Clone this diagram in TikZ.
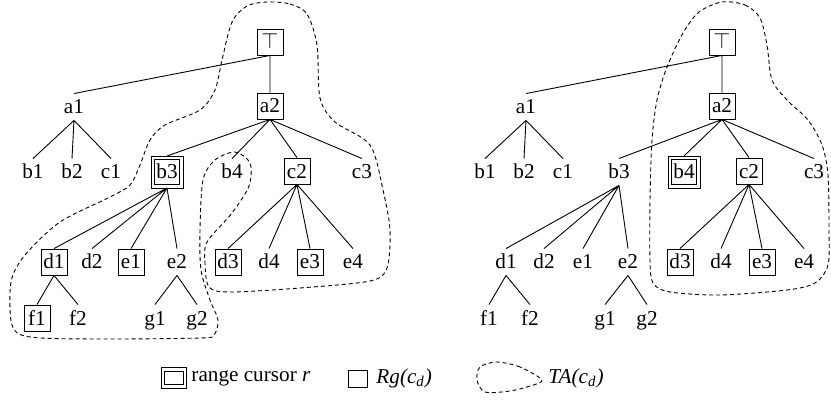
\documentclass[tikz,border=0pt]{standalone}
\usepackage{fontspec}
\setmainfont{Liberation Serif}

\tikzset{
	vertex/.style = {minimum size=13pt, inner sep=1pt, text height=7.2pt, text depth=0.2pt, font=\rmfamily\fontsize{10.6}{12}\selectfont},
	rg/.style = {vertex, draw},
	frame/.style = {outer sep=1.6pt, append after command={\pgfextra{\draw (\tikzlastnode.south west) rectangle (\tikzlastnode.north east);}}},
	cursor/.style = {vertex, draw, minimum size=12.8pt, frame},
	ta/.style = {dash pattern=on 2pt off 1.5pt},
	legend/.style = {anchor=west, inner sep=0pt, font=\rmfamily\fontsize{10.6}{12}\selectfont}
}

\begin{document}
\begin{tikzpicture}[x=0.5pt, y=-0.5pt, line width=0.45pt]
	\useasboundingbox (0,0) rectangle (831,401);
	% left tree, cursor at b3
		\node[rg]     (lT)  at (270,42)  {$\top$};
		\node[vertex] (la1) at (74,107)  {a1};
		\node[rg]     (la2) at (270,106) {a2};
		\node[vertex] (lb1) at (33,172)  {b1};
		\node[vertex] (lb2) at (72,172)  {b2};
		\node[vertex] (lc1) at (111,172) {c1};
		\node[cursor] (lb3) at (167,172) {b3};
		\node[vertex] (lb4) at (232,172) {b4};
		\node[rg]     (lc2) at (297,171) {c2};
		\node[vertex] (lc3) at (362,172) {c3};
		\node[rg]     (ld1) at (54,262)  {d1};
		\node[vertex] (ld2) at (92,262)  {d2};
		\node[rg]     (le1) at (131,262) {e1};
		\node[vertex] (le2) at (177,262) {e2};
		\node[rg]     (ld3) at (228,262) {d3};
		\node[vertex] (ld4) at (269,262) {d4};
		\node[rg]     (le3) at (310,262) {e3};
		\node[vertex] (le4) at (353,262) {e4};
		\node[rg]     (lf1) at (37,318)  {f1};
		\node[vertex] (lf2) at (78,318)  {f2};
		\node[vertex] (lg1) at (155,318) {g1};
		\node[vertex] (lg2) at (197,318) {g2};
		\draw (lT.south) -- (la1.north) (lT.south) -- (la2.north);
		\draw (la1.south) -- (lb1.north) (la1.south) -- (lb2.north) (la1.south) -- (lc1.north);
		\draw (la2.south) -- (lb3.north) (la2.south) -- (lb4.north) (la2.south) -- (lc2.north) (la2.south) -- (lc3.north);
		\draw (lb3.south) -- (ld1.north) (lb3.south) -- (ld2.north) (lb3.south) -- (le1.north) (lb3.south) -- (le2.north);
		\draw (lc2.south) -- (ld3.north) (lc2.south) -- (ld4.north) (lc2.south) -- (le3.north) (lc2.south) -- (le4.north);
		\draw (ld1.south) -- (lf1.north) (ld1.south) -- (lf2.north);
		\draw (le2.south) -- (lg1.north) (le2.south) -- (lg2.north);
		\draw[ta] plot[smooth cycle] coordinates {(267,2) (290,4) (307,14) (317,45) (320,98) (335,122) (370,145) (383,190) (390,230) (387,268) (370,281) (300,288) (230,292) (209,287) (205,263) (207,242) (232,213) (249,186) (250,163) (235,152) (215,160) (203,180) (200,230) (201,270) (210,300) (218,320) (214,335) (200,338) (100,339) (30,337) (12,325) (11,282) (25,255) (60,222) (110,197) (130,185) (140,165) (150,140) (165,125) (200,110) (215,90) (222,60) (232,22) (247,6)};
	% right tree, cursor at b4
		\node[rg]     (rT)  at (722,42)  {$\top$};
		\node[vertex] (ra1) at (526,107) {a1};
		\node[rg]     (ra2) at (722,106) {a2};
		\node[vertex] (rb1) at (485,172) {b1};
		\node[vertex] (rb2) at (524,172) {b2};
		\node[vertex] (rc1) at (563,172) {c1};
		\node[vertex] (rb3) at (619,172) {b3};
		\node[cursor] (rb4) at (684,172) {b4};
		\node[rg]     (rc2) at (749,171) {c2};
		\node[vertex] (rc3) at (814,172) {c3};
		\node[vertex] (rd1) at (506,262) {d1};
		\node[vertex] (rd2) at (544,262) {d2};
		\node[vertex] (re1) at (583,262) {e1};
		\node[vertex] (re2) at (628,262) {e2};
		\node[rg]     (rd3) at (680,262) {d3};
		\node[vertex] (rd4) at (721,262) {d4};
		\node[rg]     (re3) at (762,262) {e3};
		\node[vertex] (re4) at (804,262) {e4};
		\node[vertex] (rf1) at (489,318) {f1};
		\node[vertex] (rf2) at (530,318) {f2};
		\node[vertex] (rg1) at (605,318) {g1};
		\node[vertex] (rg2) at (647,318) {g2};
		\draw (rT.south) -- (ra1.north) (rT.south) -- (ra2.north);
		\draw (ra1.south) -- (rb1.north) (ra1.south) -- (rb2.north) (ra1.south) -- (rc1.north);
		\draw (ra2.south) -- (rb3.north) (ra2.south) -- (rb4.north) (ra2.south) -- (rc2.north) (ra2.south) -- (rc3.north);
		\draw (rb3.south) -- (rd1.north) (rb3.south) -- (rd2.north) (rb3.south) -- (re1.north) (rb3.south) -- (re2.north);
		\draw (rc2.south) -- (rd3.north) (rc2.south) -- (rd4.north) (rc2.south) -- (re3.north) (rc2.south) -- (re4.north);
		\draw (rd1.south) -- (rf1.north) (rd1.south) -- (rf2.north);
		\draw (re2.south) -- (rg1.north) (re2.south) -- (rg2.north);
		\draw[ta] plot[smooth cycle] coordinates {(722,2) (745,5) (760,18) (767,45) (772,80) (787,100) (808,120) (822,145) (828,175) (829,230) (828,265) (815,283) (787,290) (720,295) (670,292) (653,283) (650,260) (650,200) (652,140) (657,100) (667,67) (683,33) (699,12)};
	% legend
		\node[draw, minimum width=9.4pt, minimum height=6.9pt, inner sep=0pt, frame] (kcur) at (174,378) {};
		\node[legend] (tcur) at (191,378) {range cursor \textit{r}};
		\node[draw, minimum width=9.1pt, minimum height=8.1pt, inner sep=0pt] (krg) at (358,379) {};
		\node[legend] (trg) at (376,378) {\textit{Rg(c}\textsubscript{\textit{d}}\textit{)}};
		\draw[ta] plot[smooth cycle] coordinates {(542,380) (520,367) (497,362) (480,367) (477,380) (485,392) (510,391) (530,386)};
		\node[legend] (tta) at (548,378) {\textit{TA(c}\textsubscript{\textit{d}}\textit{)}};
\end{tikzpicture}
\end{document}
